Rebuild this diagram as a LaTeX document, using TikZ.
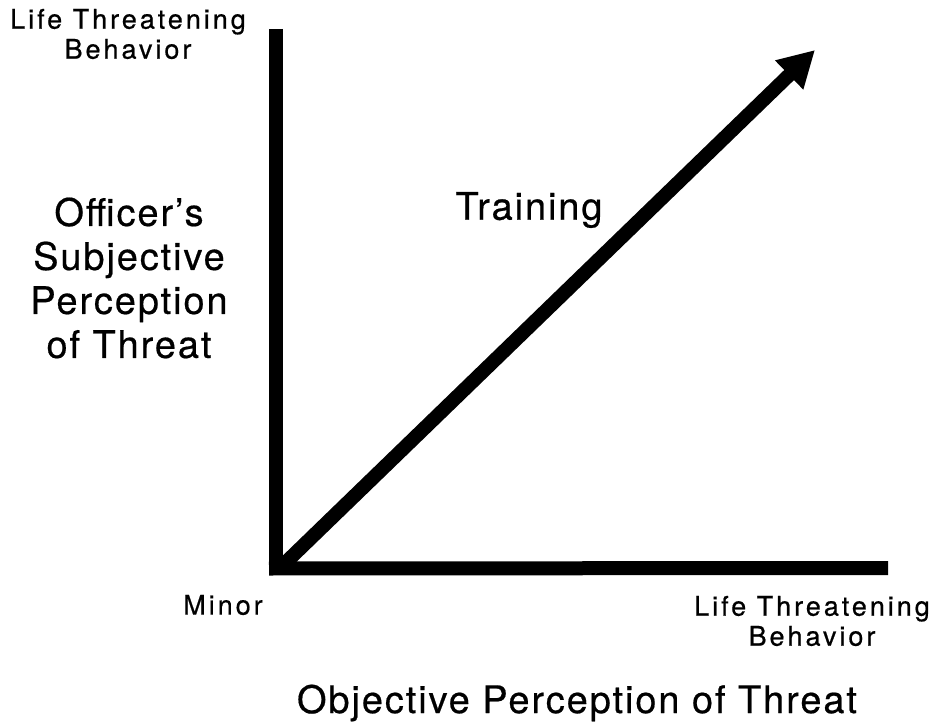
\documentclass[tikz,border=0pt]{standalone}
\usepackage{fontspec}
\setmainfont{TeX Gyre Heros}
\newfontfamily\smallfont[LetterSpace=11,FakeBold=0.6]{TeX Gyre Heros}
\newfontfamily\bigfont[LetterSpace=5,FakeBold=0.5]{TeX Gyre Heros}
\usetikzlibrary{arrows.meta}

\begin{document}
\begin{tikzpicture}[x=1pt,y=-1pt,line width=14pt,
    small/.style={font=\smallfont\fontsize{27}{30}\selectfont,align=center},
    big/.style={font=\bigfont\fontsize{38}{44}\selectfont,align=center}]
    \useasboundingbox (0,0) rectangle (940,722);

    % Draw the axes
    \coordinate (O) at (276,568);
    \coordinate (Ytop) at (276,29);
    \coordinate (Xend) at (888,568);
    \coordinate (Tip) at (815,50);

    \draw (Ytop) -- (276,575);
    \draw (269,568.5) -- (Xend);
    \draw[-{Triangle[length=36pt,width=38pt]}] (280,568) -- (Tip);

    % axis labels
    \node[small] (ymax) at (128,34) {Life Threatening\\Behavior};
    \node[small] (xmin) at (223,605) {Minor};
    \node[small] (xmax) at (812,621) {Life Threatening\\Behavior};
    \node[big] (ylab) at (129,278) {Officer’s\\Subjective\\Perception\\of Threat};
    \node[big] (xlab) at (577,703) {Objective Perception of Threat};
    \node[big] (train) at (529,210) {Training};
\end{tikzpicture}
\end{document}
